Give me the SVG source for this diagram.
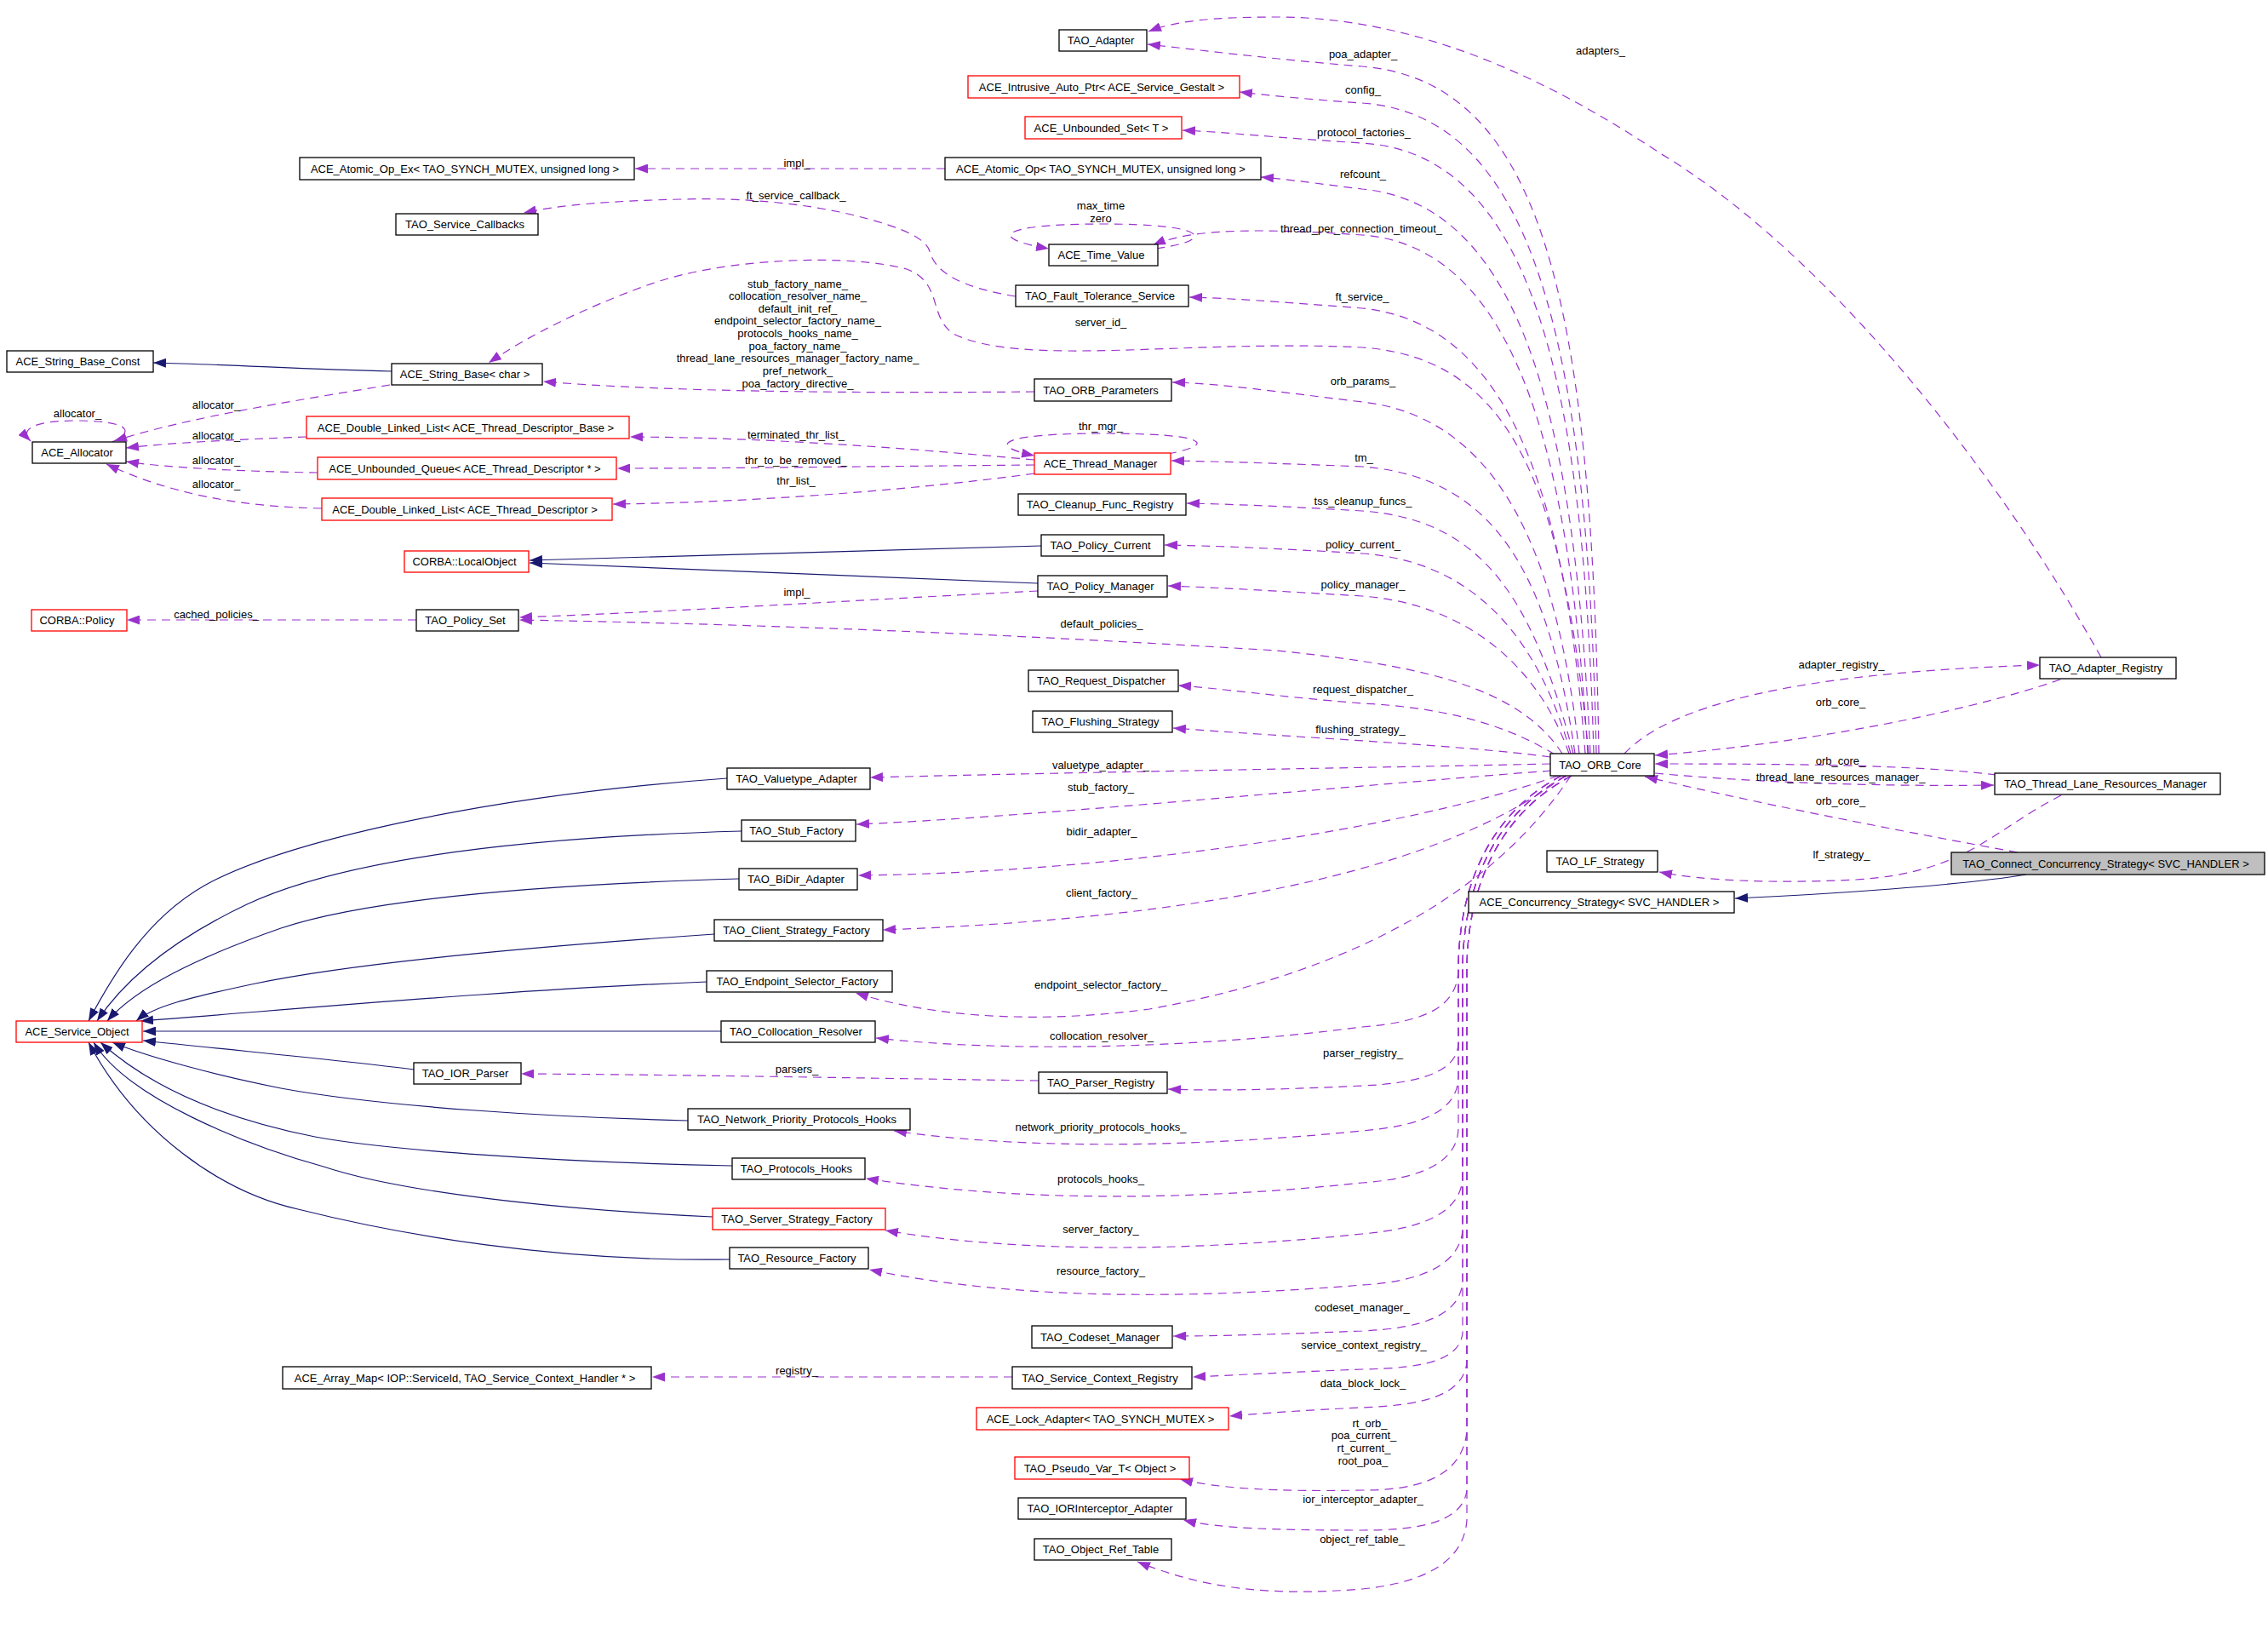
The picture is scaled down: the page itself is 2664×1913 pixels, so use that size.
<svg xmlns="http://www.w3.org/2000/svg" width="2664" height="1913" viewBox="0 0 2664 1913">
<style>
.n rect{fill:#fff;stroke:#000;stroke-width:1.3}
.r rect{stroke:#f00}
.g rect{fill:#bfbfbf}
text{font-family:"Liberation Sans",Arial,sans-serif;font-size:13px;fill:#000;text-anchor:middle}
.u{fill:none;stroke:#9a32cd;stroke-width:1.2;stroke-dasharray:10,7;marker-end:url(#ap)}
.i{fill:none;stroke:#191970;stroke-width:1.2;marker-end:url(#an)}
</style>
<defs>
<marker id="ap" markerUnits="userSpaceOnUse" markerWidth="15" markerHeight="11" refX="15" refY="5.5" orient="auto" viewBox="0 0 15 11"><path d="M0,0 L15,5.5 L0,11 z" fill="#9a32cd" stroke="none"/></marker>
<marker id="an" markerUnits="userSpaceOnUse" markerWidth="15" markerHeight="11" refX="15" refY="5.5" orient="auto" viewBox="0 0 15 11"><path d="M0,0 L15,5.5 L0,11 z" fill="#191970" stroke="none"/></marker>
</defs>
<rect width="2664" height="1913" fill="#fff"/>
<g id="connectors">
<path class="u" d="M1878,885 C1870,350 1810,95 1600,78 C1500,70 1420,60 1348,52"/>
<path class="u" d="M1875,885 C1865,400 1800,135 1600,121 C1540,117 1490,112 1456,108"/>
<path class="u" d="M1872,885 C1860,450 1800,180 1600,168 C1500,162 1440,155 1389,153"/>
<path class="u" d="M1868,885 C1850,500 1790,240 1600,222 C1550,216 1510,210 1481,208"/>
<path class="u" d="M1865,885 C1845,560 1790,290 1600,276 C1480,268 1400,268 1354,288"/>
<path class="u" d="M1862,885 C1840,600 1780,380 1600,362 C1500,354 1440,350 1397,349"/>
<path class="u" d="M1866,885 C1835,560 1770,420 1600,408 C1400,398 1200,432 1120,392 C1090,372 1108,332 1065,316 C1000,298 850,302 760,335 C680,364 620,395 574,426"/>
<path class="u" d="M1855,885 C1830,650 1760,490 1600,472 C1500,460 1430,450 1377,449"/>
<path class="u" d="M1850,885 C1820,680 1760,560 1600,548 C1500,544 1430,542 1376,541"/>
<path class="u" d="M1848,885 C1800,700 1740,610 1600,600 C1500,594 1440,592 1394,591"/>
<path class="u" d="M1845,885 C1810,760 1740,660 1600,650 C1500,644 1430,641 1368,640"/>
<path class="u" d="M1843,885 C1810,790 1730,710 1600,700 C1500,694 1430,690 1372,688"/>
<path class="u" d="M1835,885 C1780,800 1650,780 1500,764 C1300,752 1000,735 610,728"/>
<path class="u" d="M1826,886 C1760,845 1680,830 1600,826 C1500,818 1430,808 1384,805"/>
<path class="u" d="M1821,889 C1720,875 1520,866 1378,855"/>
<path class="u" d="M1821,897 C1700,900 1300,906 1022,913"/>
<path class="u" d="M1822,905 C1500,930 1200,960 1006,968"/>
<path class="u" d="M1830,911 C1650,975 1300,1025 1008,1028"/>
<path class="u" d="M1838,911 C1720,1000 1500,1075 1037,1092"/>
<path class="u" d="M1845,911 C1760,1040 1600,1140 1350,1185 C1200,1205 1080,1190 1005,1166"/>
<path class="u" d="M1834,911 C1750,955 1713,1040 1713,1140 C1711,1185 1670,1200 1600,1206 C1400,1232 1180,1236 1029,1219"/>
<path class="u" d="M1834,911 C1750,955 1713,1040 1713,1140 L1713,1225 C1712,1258 1670,1272 1600,1275 C1500,1280 1420,1281 1372,1279"/>
<path class="u" d="M1834,911 C1750,955 1713,1040 1713,1140 L1713,1265 C1712,1305 1670,1322 1600,1328 C1400,1348 1200,1350 1050,1328"/>
<path class="u" d="M1834,911 C1750,955 1713,1040 1713,1140 L1713,1325 C1712,1365 1670,1384 1600,1389 C1400,1410 1200,1412 1017,1384"/>
<path class="u" d="M1840,911 C1756,955 1718,1040 1718,1140 L1718,1385 C1714,1425 1670,1443 1600,1449 C1400,1470 1200,1472 1040,1445"/>
<path class="u" d="M1840,911 C1756,955 1718,1040 1718,1140 L1718,1445 C1714,1485 1670,1505 1600,1509 C1400,1525 1200,1528 1021,1491"/>
<path class="u" d="M1840,911 C1756,955 1718,1040 1718,1140 L1718,1505 C1715,1545 1670,1560 1600,1563 C1500,1567 1430,1569 1378,1569"/>
<path class="u" d="M1840,911 C1756,955 1718,1040 1718,1140 L1718,1565 C1715,1598 1670,1607 1600,1608 C1520,1611 1450,1615 1401,1617"/>
<path class="u" d="M1846,911 C1762,955 1723,1040 1723,1140 L1723,1600 C1718,1640 1670,1650 1600,1653 C1530,1656 1480,1660 1444,1663"/>
<path class="u" d="M1846,911 C1762,955 1723,1040 1723,1140 L1723,1680 C1718,1738 1660,1750 1600,1750 C1500,1752 1430,1748 1386,1737"/>
<path class="u" d="M1846,911 C1762,955 1723,1040 1723,1140 L1723,1750 C1718,1790 1660,1797 1600,1797 C1500,1797 1430,1795 1390,1785"/>
<path class="u" d="M1846,911 C1762,955 1723,1040 1723,1140 L1723,1785 C1720,1830 1680,1858 1600,1866 C1500,1874 1420,1868 1336,1834"/>
<path class="u" d="M1110,198 L746,198"/>
<path class="u" d="M1193,348 C1130,338 1098,320 1092,295 C1086,275 1040,262 1000,252 C940,238 870,232 800,234 C720,236 660,240 615,250"/>
<path class="u" d="M1215,460 C1000,462 780,460 638,448"/>
<path class="u" d="M1372,533 C1430,522 1420,509 1295,509 C1170,509 1160,524 1215,535"/>
<path class="u" d="M1215,540 C1050,525 900,514 740,513"/>
<path class="u" d="M1215,546 C1000,548 850,550 725,550"/>
<path class="u" d="M1215,556 C1100,572 900,590 720,592"/>
<path class="i" d="M460,436 C360,434 270,428 180,426"/>
<path class="u" d="M458,452 C350,470 220,490 134,518"/>
<path class="u" d="M132,519 C165,503 140,494 90,494 C40,494 22,504 36,518"/>
<path class="u" d="M360,513 C280,516 200,520 148,526"/>
<path class="u" d="M373,555 C300,554 200,550 148,542"/>
<path class="u" d="M378,597 C280,595 200,580 125,545"/>
<path class="u" d="M1358,292 C1430,282 1420,263 1295,263 C1170,263 1160,280 1232,292"/>
<path class="i" d="M1223,641 C1000,647 780,652 622,658"/>
<path class="i" d="M1219,685 C1000,676 800,667 622,661"/>
<path class="u" d="M1219,694 C1000,705 800,718 610,725"/>
<path class="u" d="M489,728 L149,728"/>
<path class="u" d="M1220,1269 C1000,1266 800,1262 612,1261"/>
<path class="u" d="M1189,1617 L766,1617"/>
<path class="u" d="M2468,772 C2350,560 2150,300 1950,180 C1800,80 1650,20 1500,20 C1420,20 1380,25 1349,37"/>
<path class="u" d="M1908,885 C1960,830 2100,790 2396,781"/>
<path class="u" d="M2420,798 C2300,840 2100,875 1944,887"/>
<path class="u" d="M2345,910 C2250,898 2100,897 1944,897"/>
<path class="u" d="M1944,908 C2050,918 2200,924 2342,922"/>
<path class="u" d="M2370,1001 C2200,970 2050,940 1932,912"/>
<path class="u" d="M2421,934 C2340,975 2310,1025 2180,1033 C2080,1038 2000,1034 1949,1024"/>
<path class="i" d="M2380,1027 C2300,1040 2150,1050 2038,1055"/>
<path class="i" d="M854,914 C560,935 330,990 240,1040 C170,1080 130,1150 104,1199"/>
<path class="i" d="M871,976 C550,985 380,1020 290,1062 C210,1100 150,1145 114,1199"/>
<path class="i" d="M868,1032 C600,1040 420,1060 330,1090 C230,1125 160,1160 126,1199"/>
<path class="i" d="M839,1097 C650,1110 420,1130 300,1155 C220,1172 180,1182 160,1199"/>
<path class="i" d="M830,1153 C600,1162 350,1185 165,1199"/>
<path class="i" d="M847,1211 L168,1211"/>
<path class="i" d="M486,1256 C400,1245 300,1236 168,1222"/>
<path class="i" d="M808,1316 C650,1312 450,1300 330,1278 C250,1262 170,1240 132,1224"/>
<path class="i" d="M860,1369 C650,1365 450,1350 370,1335 C270,1315 180,1280 118,1224"/>
<path class="i" d="M837,1429 C650,1420 470,1400 380,1370 C290,1345 150,1290 110,1224"/>
<path class="i" d="M857,1479 C650,1482 470,1450 350,1420 C260,1400 160,1330 104,1224"/>
</g>
<g id="edge-labels">
<text x="1601" y="67.5">poa_adapter_</text>
<text x="1601" y="109.5">config_</text>
<text x="1602" y="159.5">protocol_factories_</text>
<text x="1601" y="208.5">refcount_</text>
<text x="1599" y="272.5">thread_per_connection_timeout_</text>
<text x="1600" y="352.5">ft_service_</text>
<text x="1601" y="451.5">orb_params_</text>
<text x="1602" y="541.5">tm_</text>
<text x="1601" y="592.5">tss_cleanup_funcs_</text>
<text x="1601" y="643.5">policy_current_</text>
<text x="1601" y="690.5">policy_manager_</text>
<text x="1294" y="736.5">default_policies_</text>
<text x="1601" y="813.5">request_dispatcher_</text>
<text x="1598" y="860.5">flushing_strategy_</text>
<text x="1293" y="902.5">valuetype_adapter_</text>
<text x="1293" y="929">stub_factory_</text>
<text x="1294" y="980.5">bidir_adapter_</text>
<text x="1294" y="1052.5">client_factory_</text>
<text x="1293" y="1160.5">endpoint_selector_factory_</text>
<text x="1294" y="1220.5">collocation_resolver_</text>
<text x="1601" y="1240.5">parser_registry_</text>
<text x="936" y="1259.5">parsers_</text>
<text x="1293" y="1327.5">network_priority_protocols_hooks_</text>
<text x="1293" y="1388.5">protocols_hooks_</text>
<text x="1293" y="1447.5">server_factory_</text>
<text x="1293" y="1496.5">resource_factory_</text>
<text x="1600" y="1539.5">codeset_manager_</text>
<text x="1602" y="1583.5">service_context_registry_</text>
<text x="936" y="1613.5">registry_</text>
<text x="1601" y="1628.5">data_block_lock_</text>
<text x="1609" y="1675.5">rt_orb_</text>
<text x="1602" y="1689.5">poa_current_</text>
<text x="1602" y="1704.5">rt_current_</text>
<text x="1601" y="1719.5">root_poa_</text>
<text x="1601" y="1764.5">ior_interceptor_adapter_</text>
<text x="1600" y="1811.5">object_ref_table_</text>
<text x="1880" y="63.5">adapters_</text>
<text x="2163" y="784.5">adapter_registry_</text>
<text x="2162" y="828.5">orb_core_</text>
<text x="2162" y="897.5">orb_core_</text>
<text x="2162" y="916.5">thread_lane_resources_manager_</text>
<text x="2162" y="944.5">orb_core_</text>
<text x="2163" y="1007.5">lf_strategy_</text>
<text x="936" y="195.5">impl_</text>
<text x="935" y="233.5">ft_service_callback_</text>
<text x="1293" y="245.5">max_time</text>
<text x="1293" y="260.5">zero</text>
<text x="937" y="337.5">stub_factory_name_</text>
<text x="937" y="352">collocation_resolver_name_</text>
<text x="937" y="367">default_init_ref_</text>
<text x="937" y="381">endpoint_selector_factory_name_</text>
<text x="937" y="396">protocols_hooks_name_</text>
<text x="937" y="411">poa_factory_name_</text>
<text x="937" y="425">thread_lane_resources_manager_factory_name_</text>
<text x="937" y="440">pref_network_</text>
<text x="937" y="455">poa_factory_directive_</text>
<text x="1293" y="382.5">server_id_</text>
<text x="1293" y="505">thr_mgr_</text>
<text x="935" y="515">terminated_thr_list_</text>
<text x="935" y="545">thr_to_be_removed_</text>
<text x="935" y="568.5">thr_list_</text>
<text x="91" y="490">allocator_</text>
<text x="254" y="479.5">allocator_</text>
<text x="254" y="516">allocator_</text>
<text x="254" y="545">allocator_</text>
<text x="254" y="572.5">allocator_</text>
<text x="936" y="699.5">impl_</text>
<text x="254" y="725.5">cached_policies_</text>
</g>
<g id="n1" class="n"><rect x="1244" y="35" width="103" height="25"/><text x="1293" y="52">TAO_Adapter</text></g>
<g id="n2" class="n r"><rect x="1137" y="89" width="319" height="26"/><text x="1294" y="106.5">ACE_Intrusive_Auto_Ptr&lt; ACE_Service_Gestalt &gt;</text></g>
<g id="n3" class="n r"><rect x="1204" y="137" width="184" height="26"/><text x="1293.5" y="154.5">ACE_Unbounded_Set&lt; T &gt;</text></g>
<g id="n4" class="n"><rect x="1110" y="185" width="371" height="26"/><text x="1293" y="202.5">ACE_Atomic_Op&lt; TAO_SYNCH_MUTEX, unsigned long &gt;</text></g>
<g id="n5" class="n"><rect x="352" y="185" width="393" height="26"/><text x="546" y="202.5">ACE_Atomic_Op_Ex&lt; TAO_SYNCH_MUTEX, unsigned long &gt;</text></g>
<g id="n6" class="n"><rect x="465" y="251" width="167" height="25"/><text x="546" y="268">TAO_Service_Callbacks</text></g>
<g id="n7" class="n"><rect x="1232" y="287" width="128" height="25"/><text x="1293.5" y="304">ACE_Time_Value</text></g>
<g id="n8" class="n"><rect x="1193" y="335" width="203" height="25"/><text x="1292" y="352">TAO_Fault_Tolerance_Service</text></g>
<g id="n9" class="n"><rect x="8" y="412" width="172" height="25"/><text x="91.5" y="429">ACE_String_Base_Const</text></g>
<g id="n10" class="n"><rect x="460" y="427" width="177" height="25"/><text x="546" y="444">ACE_String_Base&lt; char &gt;</text></g>
<g id="n11" class="n"><rect x="1215" y="445" width="161" height="26"/><text x="1293" y="462.5">TAO_ORB_Parameters</text></g>
<g id="n12" class="n"><rect x="38" y="519" width="110" height="25"/><text x="90.5" y="536">ACE_Allocator</text></g>
<g id="n13" class="n r"><rect x="360" y="489" width="379" height="26"/><text x="547" y="506.5">ACE_Double_Linked_List&lt; ACE_Thread_Descriptor_Base &gt;</text></g>
<g id="n14" class="n r"><rect x="1215" y="532" width="160" height="25"/><text x="1292.5" y="549">ACE_Thread_Manager</text></g>
<g id="n15" class="n r"><rect x="373" y="537" width="351" height="26"/><text x="546" y="554.5">ACE_Unbounded_Queue&lt; ACE_Thread_Descriptor * &gt;</text></g>
<g id="n16" class="n"><rect x="1196" y="580" width="197" height="25"/><text x="1292" y="597">TAO_Cleanup_Func_Registry</text></g>
<g id="n17" class="n r"><rect x="378" y="585" width="341" height="26"/><text x="546" y="602.5">ACE_Double_Linked_List&lt; ACE_Thread_Descriptor &gt;</text></g>
<g id="n18" class="n"><rect x="1223" y="628" width="144" height="25"/><text x="1292.5" y="645">TAO_Policy_Current</text></g>
<g id="n19" class="n r"><rect x="475" y="647" width="146" height="25"/><text x="545.5" y="664">CORBA::LocalObject</text></g>
<g id="n20" class="n"><rect x="1219" y="676" width="152" height="25"/><text x="1292.5" y="693">TAO_Policy_Manager</text></g>
<g id="n21" class="n r"><rect x="37" y="716" width="112" height="25"/><text x="90.5" y="733">CORBA::Policy</text></g>
<g id="n22" class="n"><rect x="489" y="716" width="120" height="25"/><text x="546.5" y="733">TAO_Policy_Set</text></g>
<g id="n23" class="n"><rect x="1208" y="787" width="176" height="25"/><text x="1293.5" y="804">TAO_Request_Dispatcher</text></g>
<g id="n24" class="n"><rect x="1213" y="835" width="164" height="25"/><text x="1292.5" y="852">TAO_Flushing_Strategy</text></g>
<g id="n25" class="n"><rect x="1821" y="885" width="122" height="26"/><text x="1879.5" y="902.5">TAO_ORB_Core</text></g>
<g id="n26" class="n"><rect x="2396" y="772" width="160" height="25"/><text x="2473.5" y="789">TAO_Adapter_Registry</text></g>
<g id="n27" class="n"><rect x="2343" y="908" width="265" height="25"/><text x="2473" y="925">TAO_Thread_Lane_Resources_Manager</text></g>
<g id="n28" class="n g"><rect x="2292" y="1001" width="368" height="26"/><text x="2473.5" y="1018.5">TAO_Connect_Concurrency_Strategy&lt; SVC_HANDLER &gt;</text></g>
<g id="n29" class="n"><rect x="1817" y="999" width="130" height="25"/><text x="1879.5" y="1016">TAO_LF_Strategy</text></g>
<g id="n30" class="n"><rect x="1725" y="1047" width="312" height="25"/><text x="1878.5" y="1064">ACE_Concurrency_Strategy&lt; SVC_HANDLER &gt;</text></g>
<g id="n31" class="n"><rect x="854" y="902" width="168" height="25"/><text x="935.5" y="919">TAO_Valuetype_Adapter</text></g>
<g id="n32" class="n"><rect x="871" y="963" width="134" height="25"/><text x="935.5" y="980">TAO_Stub_Factory</text></g>
<g id="n33" class="n"><rect x="868" y="1020" width="139" height="25"/><text x="935" y="1037">TAO_BiDir_Adapter</text></g>
<g id="n34" class="n"><rect x="839" y="1080" width="198" height="25"/><text x="935.5" y="1097">TAO_Client_Strategy_Factory</text></g>
<g id="n35" class="n"><rect x="830" y="1140" width="218" height="25"/><text x="936.5" y="1157">TAO_Endpoint_Selector_Factory</text></g>
<g id="n36" class="n"><rect x="847" y="1199" width="181" height="25"/><text x="935" y="1216">TAO_Collocation_Resolver</text></g>
<g id="n37" class="n r"><rect x="19" y="1199" width="148" height="25"/><text x="90.5" y="1216">ACE_Service_Object</text></g>
<g id="n38" class="n"><rect x="486" y="1248" width="126" height="25"/><text x="546.5" y="1265">TAO_IOR_Parser</text></g>
<g id="n39" class="n"><rect x="1220" y="1259" width="151" height="25"/><text x="1293" y="1276">TAO_Parser_Registry</text></g>
<g id="n40" class="n"><rect x="808" y="1302" width="261" height="25"/><text x="936" y="1319">TAO_Network_Priority_Protocols_Hooks</text></g>
<g id="n41" class="n"><rect x="860" y="1360" width="156" height="25"/><text x="935.5" y="1377">TAO_Protocols_Hooks</text></g>
<g id="n42" class="n r"><rect x="837" y="1419" width="203" height="25"/><text x="936" y="1436">TAO_Server_Strategy_Factory</text></g>
<g id="n43" class="n"><rect x="857" y="1465" width="163" height="25"/><text x="936" y="1482">TAO_Resource_Factory</text></g>
<g id="n44" class="n"><rect x="1212" y="1557" width="165" height="26"/><text x="1292" y="1574.5">TAO_Codeset_Manager</text></g>
<g id="n45" class="n"><rect x="332" y="1605" width="433" height="26"/><text x="546" y="1622.5">ACE_Array_Map&lt; IOP::ServiceId, TAO_Service_Context_Handler * &gt;</text></g>
<g id="n46" class="n"><rect x="1189" y="1605" width="211" height="26"/><text x="1292" y="1622.5">TAO_Service_Context_Registry</text></g>
<g id="n47" class="n r"><rect x="1147" y="1653" width="296" height="26"/><text x="1292.5" y="1670.5">ACE_Lock_Adapter&lt; TAO_SYNCH_MUTEX &gt;</text></g>
<g id="n48" class="n r"><rect x="1192" y="1711" width="205" height="26"/><text x="1292" y="1728.5">TAO_Pseudo_Var_T&lt; Object &gt;</text></g>
<g id="n49" class="n"><rect x="1196" y="1759" width="197" height="25"/><text x="1292" y="1776">TAO_IORInterceptor_Adapter</text></g>
<g id="n50" class="n"><rect x="1215" y="1807" width="161" height="25"/><text x="1293" y="1824">TAO_Object_Ref_Table</text></g>
</svg>
